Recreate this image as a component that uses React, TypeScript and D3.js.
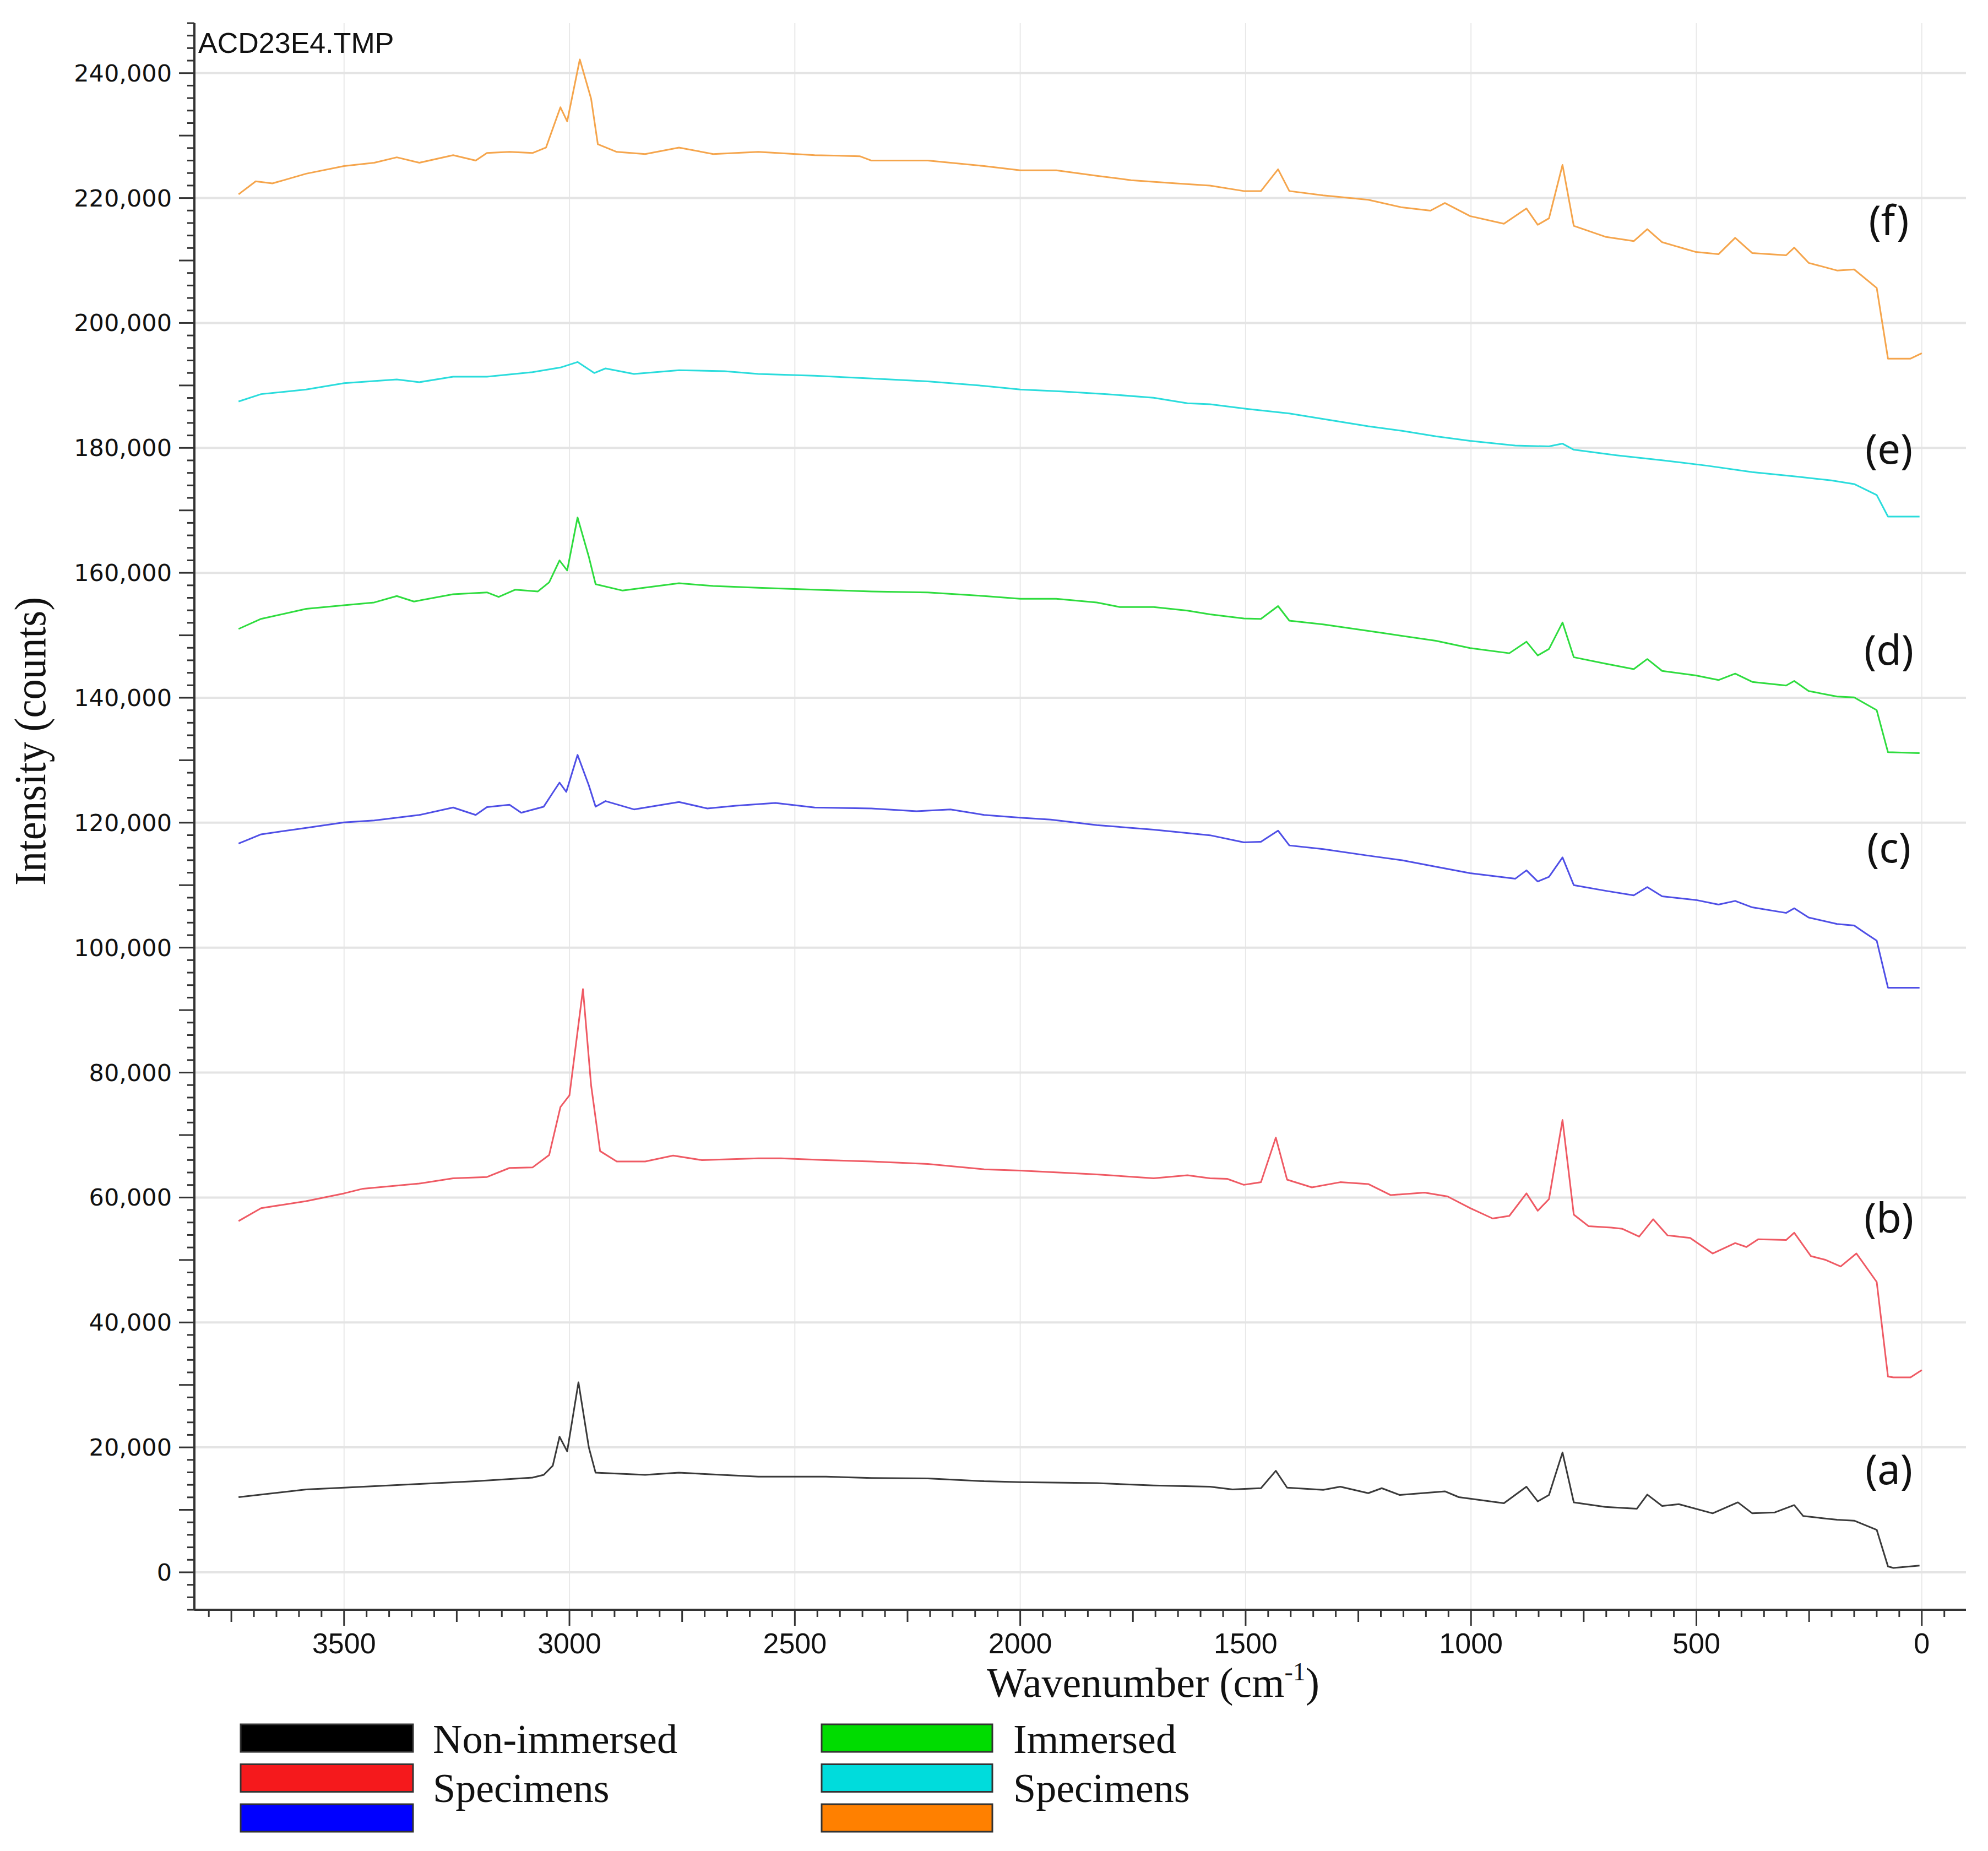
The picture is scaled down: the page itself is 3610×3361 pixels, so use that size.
import * as d3 from "d3";

const W = 3610;
const H = 3361;

// wavenumber (cm-1), intensity (counts)
const seriesA: [number, number][] = [
  [3734, 12030], [3584, 13260], [3500, 13550], [3333, 14140], [3208, 14580], [3082, 15160],
  [3057, 15600], [3037, 17070], [3022, 21700], [3005, 19360], [2980, 30410], [2957, 20000],
  [2942, 15950], [2832, 15600], [2757, 15950], [2581, 15310], [2431, 15310], [2330, 15100],
  [2205, 15020], [2080, 14580], [2000, 14430], [1830, 14280], [1704, 13900], [1579, 13700],
  [1529, 13260], [1466, 13460], [1433, 16250], [1408, 13550], [1328, 13200], [1290, 13700],
  [1228, 12670], [1198, 13460], [1158, 12380], [1058, 12960], [1027, 12030], [927, 11060],
  [877, 13700], [852, 11350], [827, 12380], [797, 19180], [772, 11200], [702, 10470],
  [632, 10180], [609, 12440], [576, 10620], [539, 10910], [464, 9440], [408, 11200],
  [376, 9440], [326, 9590], [283, 10760], [263, 9000], [226, 8710], [188, 8420],
  [150, 8270], [100, 6800], [75, 940], [63, 700], [5, 1080],
];

const seriesB: [number, number][] = [
  [3734, 56230], [3684, 58300], [3584, 59420], [3500, 60660], [3458, 61410], [3333, 62240],
  [3258, 63070], [3183, 63280], [3133, 64730], [3082, 64810], [3045, 66800], [3020, 74480],
  [3000, 76350], [2970, 93360], [2952, 78000], [2932, 67430], [2895, 65770], [2832, 65770],
  [2770, 66720], [2706, 65980], [2581, 66270], [2531, 66270], [2431, 65980], [2330, 65770],
  [2205, 65360], [2080, 64520], [2000, 64320], [1908, 63990], [1830, 63700], [1704, 63070],
  [1629, 63570], [1579, 63070], [1541, 62990], [1504, 62030], [1466, 62450], [1433, 69590],
  [1408, 62860], [1353, 61620], [1290, 62450], [1228, 62160], [1178, 60380], [1103, 60790],
  [1052, 60170], [1002, 58300], [952, 56640], [915, 57060], [877, 60660], [852, 57880],
  [827, 59750], [797, 72410], [772, 57260], [739, 55400], [689, 55190], [664, 54980],
  [627, 53740], [596, 56520], [564, 53940], [514, 53530], [464, 51040], [414, 52700],
  [389, 52080], [363, 53320], [301, 53200], [283, 54360], [246, 50620], [213, 50000],
  [180, 48960], [145, 51040], [100, 46480], [75, 31330], [63, 31210], [25, 31210], [0, 32370],
];

const seriesC: [number, number][] = [
  [3734, 116660], [3684, 118140], [3584, 119170], [3500, 120060], [3433, 120360], [3333, 121240],
  [3258, 122430], [3208, 121240], [3183, 122490], [3133, 122870], [3107, 121600], [3057, 122570],
  [3037, 124790], [3022, 126420], [3007, 124940], [2982, 130860], [2957, 125980], [2942, 122570],
  [2920, 123460], [2857, 122130], [2757, 123310], [2694, 122280], [2631, 122720], [2543, 123170],
  [2456, 122430], [2330, 122280], [2230, 121830], [2155, 122130], [2080, 121240], [2000, 120800],
  [1932, 120500], [1830, 119620], [1704, 118880], [1579, 117990], [1504, 116860], [1466, 116950],
  [1428, 118730], [1403, 116360], [1328, 115770], [1228, 114730], [1153, 113990], [1078, 112960],
  [1002, 111920], [902, 111030], [877, 112370], [852, 110590], [827, 111330], [797, 114440],
  [772, 110000], [702, 109110], [639, 108370], [609, 109700], [576, 108220], [501, 107630],
  [451, 106890], [414, 107480], [376, 106450], [301, 105560], [283, 106300], [251, 104820],
  [188, 103780], [150, 103550], [125, 102310], [100, 101120], [75, 93580], [50, 93580], [5, 93580],
];

const seriesD: [number, number][] = [
  [3734, 151020], [3684, 152630], [3584, 154240], [3500, 154820], [3433, 155260], [3383, 156290],
  [3345, 155410], [3258, 156580], [3183, 156870], [3157, 156140], [3120, 157310], [3070, 157020],
  [3045, 158480], [3022, 161990], [3005, 160380], [2982, 168860], [2957, 162570], [2942, 158190],
  [2882, 157160], [2757, 158330], [2681, 157890], [2581, 157600], [2456, 157310], [2330, 157020],
  [2205, 156870], [2080, 156290], [2000, 155850], [1920, 155850], [1830, 155260], [1779, 154530],
  [1704, 154530], [1629, 153950], [1579, 153360], [1504, 152690], [1466, 152630], [1428, 154680],
  [1403, 152340], [1328, 151750], [1203, 150440], [1078, 149120], [1002, 147950], [915, 147130],
  [877, 148980], [852, 146780], [827, 147810], [797, 152050], [772, 146490], [702, 145470],
  [639, 144590], [609, 146200], [576, 144300], [501, 143570], [451, 142840], [414, 143860],
  [376, 142540], [301, 141960], [283, 142690], [251, 141080], [188, 140200], [150, 140060],
  [100, 138010], [75, 131290], [5, 131140],
];

const seriesE: [number, number][] = [
  [3734, 187430], [3684, 188610], [3584, 189340], [3500, 190370], [3383, 190960], [3333, 190520],
  [3258, 191400], [3183, 191400], [3082, 192130], [3020, 192870], [2982, 193750], [2945, 191990],
  [2920, 192720], [2857, 191840], [2757, 192430], [2656, 192280], [2581, 191840], [2456, 191550],
  [2330, 191110], [2205, 190660], [2080, 189930], [2000, 189340], [1908, 189050], [1808, 188610],
  [1704, 188020], [1629, 187140], [1579, 186990], [1499, 186260], [1403, 185520], [1328, 184640],
  [1228, 183470], [1153, 182730], [1078, 181850], [1002, 181120], [902, 180380], [827, 180240],
  [797, 180680], [772, 179710], [677, 178820], [576, 178030], [476, 177150], [376, 176120],
  [276, 175390], [201, 174800], [150, 174210], [100, 172450], [75, 169010], [5, 169010],
];

const seriesF: [number, number][] = [
  [3734, 220590], [3696, 222680], [3659, 222340], [3584, 223900], [3500, 225120], [3433, 225650],
  [3383, 226520], [3333, 225650], [3258, 226870], [3208, 226000], [3183, 227210], [3133, 227390],
  [3082, 227210], [3052, 228080], [3020, 234530], [3005, 232270], [2977, 242190], [2952, 235920],
  [2937, 228610], [2895, 227390], [2832, 227040], [2757, 228080], [2681, 227040], [2581, 227390],
  [2456, 226870], [2356, 226690], [2330, 226000], [2205, 226000], [2080, 225120], [2000, 224430],
  [1920, 224430], [1830, 223560], [1754, 222860], [1654, 222340], [1579, 221990], [1504, 221120],
  [1466, 221120], [1428, 224600], [1403, 221120], [1328, 220420], [1228, 219720], [1153, 218500],
  [1090, 217980], [1058, 219200], [1002, 217110], [927, 215890], [877, 218330], [852, 215720],
  [827, 216760], [797, 225300], [772, 215540], [702, 213800], [639, 213100], [609, 215020],
  [576, 212930], [501, 211360], [451, 211010], [414, 213630], [376, 211190], [301, 210840],
  [283, 212060], [251, 209620], [188, 208400], [150, 208570], [100, 205610], [75, 194290],
  [25, 194290], [0, 195160],
];

const allSeries = [seriesA, seriesB, seriesC, seriesD, seriesE, seriesF];
const lineColors = ["#3a3a3a", "#ef5a64", "#4f4fe6", "#2edc3e", "#2adcdc", "#f5a54c"];
const seriesLabels = ["(a)", "(b)", "(c)", "(d)", "(e)", "(f)"];
const labelCounts = [15800, 56100, 115300, 147000, 179100, 215700];
const labelWavenumber = 73;

const xTickValues = [3500, 3000, 2500, 2000, 1500, 1000, 500, 0];
const yTickValues = [0, 20000, 40000, 60000, 80000, 100000, 120000, 140000, 160000, 180000, 200000, 220000, 240000];

const legendLeftColors = ["#000000", "#f5191c", "#0000ff"];
const legendRightColors = ["#00dc00", "#00dcdc", "#ff8000"];
const legendLeftText = ["Non-immersed", "Specimens"];
const legendRightText = ["Immersed", "Specimens"];

const left = 353;
const right = 3570;
const top = 42;
const bottom = 2923;

export default function App() {
  const x = d3.scaleLinear().domain([3832, -98]).range([left, right]);
  const y = d3.scaleLinear().domain([-6000, 248000]).range([bottom, top]);
  const line = d3
    .line<[number, number]>()
    .x((d) => x(d[0]))
    .y((d) => y(d[1]));

  const xMinor = d3.range(-50, 3801, 50);
  const yMinor = d3.range(-6000, 248001, 2000);
  const fmt = d3.format(",");

  return (
    <svg
      width={W}
      height={H}
      viewBox={`0 0 ${W} ${H}`}
      style={{ position: "absolute", left: 0, top: 0, display: "block", background: "#fff" }}
    >
      <rect width={W} height={H} fill="#fff" />

      {/* grid */}
      {xTickValues.map((t) => (
        <line key={"gx" + t} x1={x(t)} x2={x(t)} y1={top} y2={bottom} stroke="#e9e9e9" strokeWidth={2} />
      ))}
      {yTickValues.map((t) => (
        <line key={"gy" + t} x1={left} x2={right} y1={y(t)} y2={y(t)} stroke="#e4e4e4" strokeWidth={4} />
      ))}

      {/* spectra */}
      {allSeries.map((s, i) => (
        <path key={"s" + i} d={line(s) || ""} fill="none" stroke={lineColors[i]} strokeWidth={3} strokeLinejoin="round" />
      ))}

      {/* y axis */}
      <line x1={left} x2={left} y1={top} y2={bottom} stroke="#333" strokeWidth={4} />
      {yMinor.map((t) => {
        const major = t % 10000 === 0;
        return (
          <line key={"yt" + t} x1={left - (major ? 28 : 13)} x2={left} y1={y(t)} y2={y(t)} stroke="#333" strokeWidth={3} />
        );
      })}
      {yTickValues.map((t) => (
        <text
          key={"yl" + t}
          x={312}
          y={y(t)}
          textAnchor="end"
          dominantBaseline="central"
          fontFamily="DejaVu Sans"
          fontSize={43}
          fill="#111"
        >
          {fmt(t)}
        </text>
      ))}

      {/* x axis */}
      <line x1={left} x2={right} y1={bottom} y2={bottom} stroke="#333" strokeWidth={4} />
      {xMinor.map((t) => {
        const len = t % 500 === 0 ? 29 : t % 250 === 0 ? 22 : 13;
        return <line key={"xt" + t} x1={x(t)} x2={x(t)} y1={bottom} y2={bottom + len} stroke="#333" strokeWidth={3} />;
      })}
      {xTickValues.map((t) => (
        <text key={"xl" + t} x={x(t)} y={3002} textAnchor="middle" fontFamily="Liberation Sans" fontSize={52} fill="#111">
          {t}
        </text>
      ))}

      {/* titles */}
      <text x={360} y={96} fontFamily="Liberation Sans" fontSize={52} fill="#111">
        ACD23E4.TMP
      </text>
      <text
        transform={`translate(82, 1346) rotate(-90)`}
        textAnchor="middle"
        fontFamily="Liberation Serif"
        fontSize={80}
        textLength={524}
        lengthAdjust="spacingAndGlyphs"
        fill="#111"
      >
        Intensity (counts)
      </text>
      <text x={1792} y={3081} fontFamily="Liberation Serif" fontSize={76} fill="#111">
        Wavenumber (cm
        <tspan fontSize={46} dy={-30}>
          -1
        </tspan>
        <tspan dy={30}>)</tspan>
      </text>

      {/* series labels */}
      {seriesLabels.map((l, i) => (
        <text
          key={"lab" + i}
          x={x(labelWavenumber)}
          y={y(labelCounts[i]) + 19}
          textAnchor="middle"
          fontFamily="Noto Sans"
          fontSize={74}
          fill="#111"
        >
          {l}
        </text>
      ))}

      {/* legend */}
      {legendLeftColors.map((c, i) => (
        <rect key={"ll" + i} x={437} y={3131 + i * 72.5} width={313} height={50} fill={c} stroke="#333" strokeWidth={3} />
      ))}
      {legendRightColors.map((c, i) => (
        <rect key={"lr" + i} x={1492} y={3131 + i * 72.5} width={310} height={50} fill={c} stroke="#333" strokeWidth={3} />
      ))}
      {legendLeftText.map((t, i) => (
        <text key={"lt" + i} x={786} y={3183 + i * 89} fontFamily="Liberation Serif" fontSize={74} fill="#111">
          {t}
        </text>
      ))}
      {legendRightText.map((t, i) => (
        <text key={"rt" + i} x={1840} y={3183 + i * 89} fontFamily="Liberation Serif" fontSize={74} fill="#111">
          {t}
        </text>
      ))}
    </svg>
  );
}
